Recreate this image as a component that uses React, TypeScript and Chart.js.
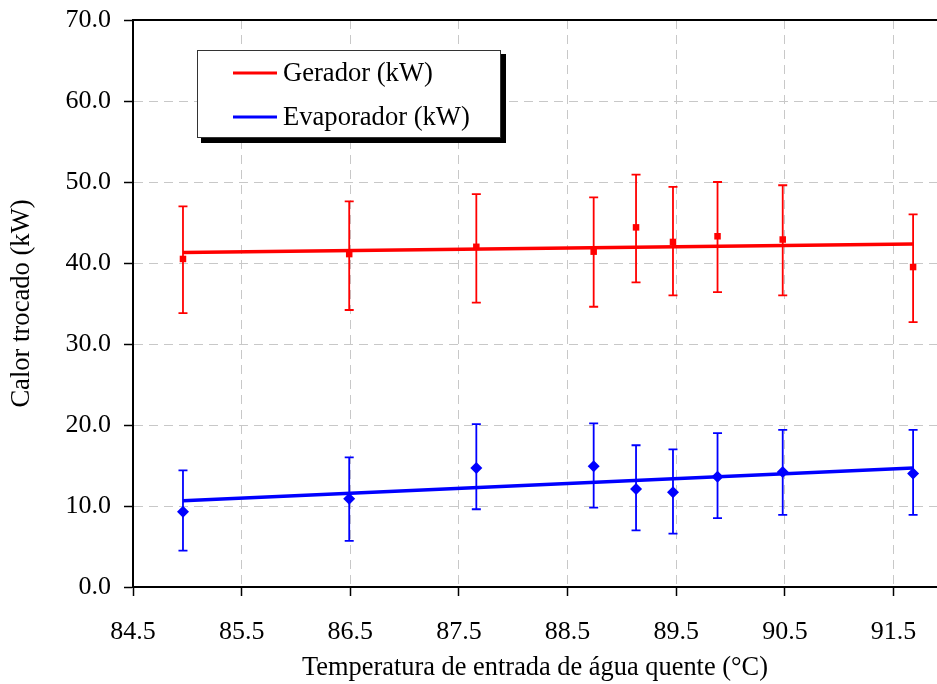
import React, { useEffect, useRef } from "react";
import { Chart, registerables } from "chart.js";

Chart.register(...registerables);

// ---- data ----
const temperatures = [84.96, 86.49, 87.66, 88.74, 89.13, 89.47, 89.88, 90.48, 91.68];

const geradorValues = [40.5, 41.1, 42.0, 41.4, 44.4, 42.6, 43.3, 42.9, 39.5];
const geradorHigh = [47.0, 47.6, 48.5, 48.1, 50.9, 49.4, 50.0, 49.6, 46.0];
const geradorLow = [33.8, 34.2, 35.1, 34.6, 37.6, 36.0, 36.4, 36.0, 32.7];

const evaporadorValues = [9.3, 10.9, 14.7, 14.9, 12.1, 11.7, 13.6, 14.2, 14.0];
const evaporadorHigh = [14.4, 16.0, 20.1, 20.2, 17.5, 17.0, 19.0, 19.4, 19.4];
const evaporadorLow = [4.5, 5.7, 9.6, 9.8, 7.0, 6.6, 8.5, 8.9, 8.9];

// linear trend lines (end points)
const geradorTrendX = [84.96, 91.68];
const geradorTrendY = [41.3, 42.35];
const evaporadorTrendX = [84.96, 91.68];
const evaporadorTrendY = [10.65, 14.7];

const xTickValues = [84.5, 85.5, 86.5, 87.5, 88.5, 89.5, 90.5, 91.5];
const yTickValues = [0, 10, 20, 30, 40, 50, 60, 70];

const seriesNames = ["Gerador (kW)", "Evaporador (kW)"];
const seriesColors = ["#ff0000", "#0000ff"];

const xTitle = "Temperatura de entrada de água quente (°C)";
const yTitle = "Calor trocado (kW)";

const FONT = "'Liberation Serif', 'Times New Roman', serif";

const errorBarPlugin = {
  id: "errorBars",
  beforeDatasetsDraw(chart: any) {
    const { ctx } = chart;
    const xs = chart.scales.x;
    const ys = chart.scales.y;
    chart.data.datasets.forEach((ds: any) => {
      if (!ds.errLow || !ds.errHigh) return;
      ctx.save();
      ctx.strokeStyle = ds.borderColor;
      ctx.lineWidth = 1.8;
      ds.data.forEach((p: any, i: number) => {
        const px = xs.getPixelForValue(p.x);
        const pyH = ys.getPixelForValue(ds.errHigh[i]);
        const pyL = ys.getPixelForValue(ds.errLow[i]);
        ctx.beginPath();
        ctx.moveTo(px, pyH);
        ctx.lineTo(px, pyL);
        ctx.moveTo(px - 4.5, pyH);
        ctx.lineTo(px + 4.5, pyH);
        ctx.moveTo(px - 4.5, pyL);
        ctx.lineTo(px + 4.5, pyL);
        ctx.stroke();
      });
      ctx.restore();
    });
    // top frame line
    const a = chart.chartArea;
    ctx.save();
    ctx.strokeStyle = "#000";
    ctx.lineWidth = 2;
    ctx.beginPath();
    ctx.moveTo(a.left, a.top);
    ctx.lineTo(a.right, a.top);
    ctx.stroke();
    ctx.restore();
  },
};

const legendPlugin = {
  id: "boxLegend",
  afterDraw(chart: any) {
    const { ctx } = chart;
    const bx = 197, by = 50, bw = 303, bh = 87;
    ctx.save();
    ctx.fillStyle = "#000";
    ctx.fillRect(bx + 4, by + bh, bw + 2, 6);
    ctx.fillRect(bx + bw, by + 4, 6, bh + 2);
    ctx.fillStyle = "#fff";
    ctx.fillRect(bx, by, bw, bh);
    ctx.strokeStyle = "#333";
    ctx.lineWidth = 1;
    ctx.strokeRect(bx + 0.5, by + 0.5, bw, bh);
    ctx.font = `26.6px ${FONT}`;
    ctx.textBaseline = "middle";
    ctx.textAlign = "left";
    seriesNames.forEach((name, i) => {
      const yy = 73 + i * 44;
      ctx.strokeStyle = seriesColors[i];
      ctx.lineWidth = 3;
      ctx.beginPath();
      ctx.moveTo(233, yy);
      ctx.lineTo(277, yy);
      ctx.stroke();
      ctx.fillStyle = "#000";
      ctx.fillText(name, 283, yy + 1);
    });
    ctx.restore();
  },
};

export default function App() {
  const ref = useRef<HTMLCanvasElement | null>(null);

  useEffect(() => {
    if (!ref.current) return;
    Chart.defaults.font.family = FONT;
    Chart.defaults.font.size = 26;
    Chart.defaults.color = "#000";

    const chart = new Chart(ref.current, {
      type: "scatter",
      data: {
        datasets: [
          {
            label: seriesNames[0] + " trend",
            type: "line",
            data: geradorTrendX.map((x, i) => ({ x, y: geradorTrendY[i] })),
            borderColor: seriesColors[0],
            borderWidth: 3.5,
            pointRadius: 0,
            showLine: true,
            fill: false,
          } as any,
          {
            label: seriesNames[1] + " trend",
            type: "line",
            data: evaporadorTrendX.map((x, i) => ({ x, y: evaporadorTrendY[i] })),
            borderColor: seriesColors[1],
            borderWidth: 3.5,
            pointRadius: 0,
            showLine: true,
            fill: false,
          } as any,
          {
            label: seriesNames[0],
            data: temperatures.map((x, i) => ({ x, y: geradorValues[i] })),
            borderColor: seriesColors[0],
            backgroundColor: seriesColors[0],
            pointStyle: "rect",
            pointRadius: 4.6,
            pointBorderWidth: 0,
            errLow: geradorLow,
            errHigh: geradorHigh,
          } as any,
          {
            label: seriesNames[1],
            data: temperatures.map((x, i) => ({ x, y: evaporadorValues[i] })),
            borderColor: seriesColors[1],
            backgroundColor: seriesColors[1],
            pointStyle: "rectRot",
            pointRadius: 6,
            pointBorderWidth: 0,
            errLow: evaporadorLow,
            errHigh: evaporadorHigh,
          } as any,
        ],
      },
      options: {
        responsive: false,
        animation: false,
        devicePixelRatio: 1,
        layout: { autoPadding: false, padding: { left: 0, right: 0, top: 20, bottom: 0 } },
        plugins: {
          legend: { display: false },
          tooltip: { enabled: false },
        },
        scales: {
          x: {
            type: "linear",
            min: 84.5,
            max: 91.9,
            afterBuildTicks: (s: any) => {
              s.ticks = xTickValues.map((v) => ({ value: v }));
            },
            afterFit: (s: any) => {
              s.height = 97;
              s.paddingLeft = 0;
              s.paddingRight = 0;
            },
            ticks: {
              autoSkip: false,
              maxRotation: 0,
              padding: 21,
              font: { size: 26, family: FONT },
              color: "#000",
              callback: (v: any) => Number(v).toFixed(1),
            },
            grid: {
              color: "#c8c8c8",
              lineWidth: 1,
              tickColor: "#000",
              tickLength: 9,
              tickWidth: 1.5,
            },
            border: { display: true, color: "#000", width: 2, dash: [9, 6] },
            title: {
              display: true,
              text: xTitle,
              font: { size: 26.4, family: FONT },
              color: "#000",
              padding: { top: 0, bottom: 0 },
            },
          },
          y: {
            type: "linear",
            min: 0,
            max: 70,
            afterBuildTicks: (s: any) => {
              s.ticks = yTickValues.map((v) => ({ value: v }));
            },
            afterFit: (s: any) => {
              s.width = 133;
              s.paddingTop = 0;
              s.paddingBottom = 0;
            },
            ticks: {
              padding: 13,
              font: { size: 26, family: FONT },
              color: "#000",
              callback: (v: any) => Number(v).toFixed(1),
            },
            grid: {
              color: "#c8c8c8",
              lineWidth: 1,
              tickColor: "#000",
              tickLength: 9,
              tickWidth: 1.5,
            },
            border: { display: true, color: "#000", width: 2, dash: [9, 6] },
            title: {
              display: true,
              text: yTitle,
              font: { size: 26.6, family: FONT },
              color: "#000",
              padding: { top: 6, bottom: 0 },
            },
          },
        },
      } as any,
      plugins: [errorBarPlugin, legendPlugin],
    });
    return () => chart.destroy();
  }, []);

  return (
    <div
      style={{
        position: "fixed",
        left: 0,
        top: 0,
        width: 937,
        height: 684,
        overflow: "hidden",
        background: "#fff",
      }}
    >
      <canvas ref={ref} width={937} height={684} style={{ display: "block" }} />
    </div>
  );
}
